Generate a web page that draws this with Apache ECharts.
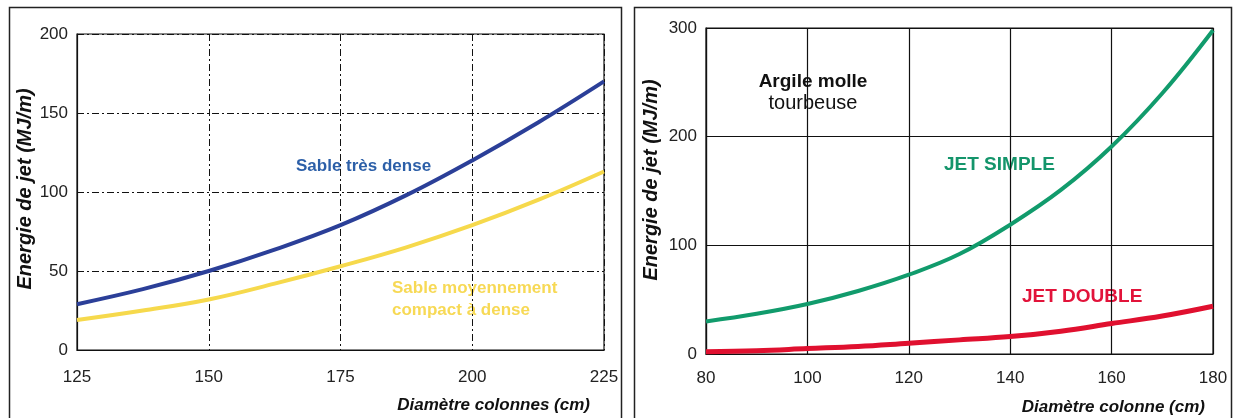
<!DOCTYPE html>
<html><head><meta charset="utf-8">
<script src="https://cdn.jsdelivr.net/npm/echarts@6/dist/echarts.min.js"></script>
<style>html,body{margin:0;padding:0;background:#fff}#c{width:1233px;height:418px}</style>
</head><body><div id="c"></div>
<script>
// Left chart: sand
var sandX = [125, 137.5, 150, 162.5, 175, 187.5, 200, 212.5, 225];
var sableTresDense = [29, 38.5, 50, 63.5, 79, 98, 120, 144, 170];
var sableMoyen = [19, 25, 32, 42, 53, 65, 79, 95, 113];
var leftXTicks = [125, 150, 175, 200, 225];
var leftYTicks = [0, 50, 100, 150, 200];
// Right chart: soft clay
var clayX = [80, 90, 100, 110, 120, 130, 140, 150, 160, 170, 180];
var jetSimple = [30, 37, 46, 58, 73, 92, 119, 151, 191, 240, 298];
var jetDouble = [2, 3, 5, 7, 10, 13, 16, 21, 28, 35, 44];
var rightXTicks = [80, 100, 120, 140, 160, 180];
var rightYTicks = [0, 100, 200, 300];

function pairs(xs, ys){ return xs.map(function(x,i){ return [x, ys[i]]; }); }

var FONT = '"Liberation Sans",Arial,sans-serif';
var dashDot = [7, 3, 2, 3];

var chart = echarts.init(document.getElementById('c'), null, {renderer:'canvas'});
var labelStyle = {color:'#222', fontFamily:FONT, fontSize:17};

chart.setOption({
  animation:false,
  backgroundColor:'#fff',
  grid:[
    {left:77, right:629, top:34, bottom:68, show:true, borderColor:'#111', borderWidth:1.2, backgroundColor:'transparent'},
    {left:706, right:20, top:28, bottom:64, show:true, borderColor:'#111', borderWidth:1.2, backgroundColor:'transparent'}
  ],
  xAxis:[
    {type:'value', gridIndex:0, min:leftXTicks[0], max:leftXTicks[leftXTicks.length-1], interval:leftXTicks[1]-leftXTicks[0],
     axisLine:{show:true, lineStyle:{color:'#111', width:1.2}}, axisTick:{show:false},
     axisLabel:Object.assign({margin:19, showMinLabel:true, showMaxLabel:true}, labelStyle),
     splitLine:{show:true, lineStyle:{color:'#111', width:1, type:dashDot}}},
    {type:'value', gridIndex:1, min:rightXTicks[0], max:rightXTicks[rightXTicks.length-1], interval:rightXTicks[1]-rightXTicks[0],
     axisLine:{show:true, lineStyle:{color:'#111', width:1.2}}, axisTick:{show:false},
     axisLabel:Object.assign({margin:16, showMinLabel:true, showMaxLabel:true}, labelStyle),
     splitLine:{show:true, lineStyle:{color:'#111', width:1.2, type:'solid'}}}
  ],
  yAxis:[
    {type:'value', gridIndex:0, min:leftYTicks[0], max:leftYTicks[leftYTicks.length-1], interval:leftYTicks[1]-leftYTicks[0],
     axisLine:{show:true, lineStyle:{color:'#111', width:1.2}}, axisTick:{show:false},
     axisLabel:Object.assign({margin:9}, labelStyle),
     splitLine:{show:true, lineStyle:{color:'#111', width:1, type:dashDot}}},
    {type:'value', gridIndex:1, min:rightYTicks[0], max:rightYTicks[rightYTicks.length-1], interval:rightYTicks[1]-rightYTicks[0],
     axisLine:{show:true, lineStyle:{color:'#111', width:1.2}}, axisTick:{show:false},
     axisLabel:Object.assign({margin:9}, labelStyle),
     splitLine:{show:true, lineStyle:{color:'#111', width:1.2, type:'solid'}}}
  ],
  series:[
    {name:'Sable très dense', type:'line', xAxisIndex:0, yAxisIndex:0, data:pairs(sandX, sableTresDense), smooth:0.4, showSymbol:false, lineStyle:{color:'#2b3f98', width:4}},
    {name:'Sable moyennement compact à dense', type:'line', xAxisIndex:0, yAxisIndex:0, data:pairs(sandX, sableMoyen), smooth:0.4, showSymbol:false, lineStyle:{color:'#f6d94c', width:4}},
    {name:'JET SIMPLE', type:'line', xAxisIndex:1, yAxisIndex:1, data:pairs(clayX, jetSimple), smooth:0.4, showSymbol:false, lineStyle:{color:'#119b6c', width:4}},
    {name:'JET DOUBLE', type:'line', xAxisIndex:1, yAxisIndex:1, data:pairs(clayX, jetDouble), smooth:0.4, showSymbol:false, lineStyle:{color:'#e0102f', width:5}}
  ],
  graphic:[
    {type:'rect', shape:{x:9.5, y:7.5, width:612, height:460}, style:{fill:'none', stroke:'#222', lineWidth:1.5}, silent:true, z:-1},
    {type:'rect', shape:{x:634.5, y:7.5, width:597, height:460}, style:{fill:'none', stroke:'#222', lineWidth:1.5}, silent:true, z:-1},
    {type:'text', x:25, y:189, rotation:Math.PI/2, style:{text:'Energie de jet (MJ/m)', fill:'#111', font:'italic bold 20px '+FONT, align:'center', verticalAlign:'middle'}},
    {type:'text', x:651, y:180, rotation:Math.PI/2, style:{text:'Energie de jet (MJ/m)', fill:'#111', font:'italic bold 20px '+FONT, align:'center', verticalAlign:'middle'}},
    {type:'text', x:590, y:405, style:{text:'Diamètre colonnes (cm)', fill:'#111', font:'italic bold 17px '+FONT, align:'right', verticalAlign:'middle'}},
    {type:'text', x:1205, y:407, style:{text:'Diamètre colonne (cm)', fill:'#111', font:'italic bold 17px '+FONT, align:'right', verticalAlign:'middle'}},
    {type:'text', x:296, y:166, style:{text:'Sable très dense', fill:'#2c5fa8', font:'bold 17px '+FONT, verticalAlign:'middle'}},
    {type:'text', x:392, y:299, style:{text:'Sable moyennement\ncompact à dense', fill:'#f7d955', font:'bold 17px '+FONT, lineHeight:22, verticalAlign:'middle'}},
    {type:'text', x:813, y:82, style:{text:'Argile molle', fill:'#111', font:'bold 19px '+FONT, align:'center', verticalAlign:'middle'}},
    {type:'text', x:813, y:103, style:{text:'tourbeuse', fill:'#111', font:'20px '+FONT, align:'center', verticalAlign:'middle'}},
    {type:'text', x:944, y:165, style:{text:'JET SIMPLE', fill:'#14956b', font:'bold 19px '+FONT, verticalAlign:'middle'}},
    {type:'text', x:1022, y:297, style:{text:'JET DOUBLE', fill:'#e2133a', font:'bold 19px '+FONT, verticalAlign:'middle'}}
  ]
});
</script></body></html>
